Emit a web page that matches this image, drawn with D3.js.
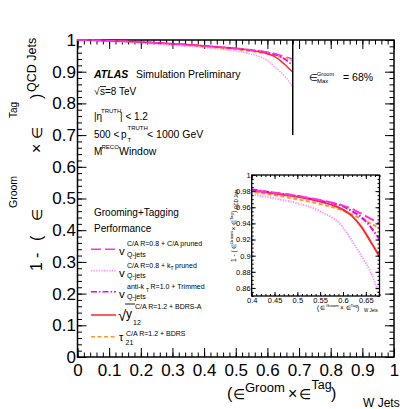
<!DOCTYPE html>
<html><head><meta charset="utf-8">
<script src="https://cdn.jsdelivr.net/npm/d3@7"></script>
<style>body{margin:0;background:#fff} svg{display:block} text{font-family:"Liberation Sans",Arial,Helvetica,sans-serif;fill:#000}</style>
</head><body><svg id="c" width="400" height="409"></svg>
<script>
// ---- data ----
const effW      = [0, 0.05, 0.1, 0.15, 0.2, 0.25, 0.3, 0.35, 0.4, 0.45, 0.5, 0.55, 0.6, 0.62, 0.64, 0.66, 0.68];
const caPruned  = [1.0, 0.999, 0.998, 0.996, 0.994, 0.991, 0.988, 0.985, 0.981, 0.978, 0.974, 0.969, 0.962, 0.958, 0.952, 0.946, 0.940];
const ktPruned  = [1.0, 0.998, 0.996, 0.993, 0.990, 0.987, 0.983, 0.980, 0.976, 0.971, 0.965, 0.955, 0.935, 0.918, 0.900, 0.880, 0.851];
const trimmed   = [1.0, 0.999, 0.998, 0.996, 0.994, 0.991, 0.988, 0.985, 0.982, 0.978, 0.974, 0.968, 0.961, 0.955, 0.948, 0.936, 0.920];
const bdrsA     = [1.0, 0.999, 0.998, 0.996, 0.994, 0.991, 0.988, 0.985, 0.981, 0.977, 0.973, 0.967, 0.957, 0.949, 0.936, 0.918, 0.899];
const tau21     = [1.0, 0.999, 0.997, 0.995, 0.993, 0.990, 0.987, 0.983, 0.979, 0.975, 0.970, 0.964, 0.956, 0.951, 0.946, 0.940, 0.934];
const groomMax  = 0.68;
const cutLine   = [[0.68, 1.0], [0.68, 0.7]];
const xTicks    = [0, 0.1, 0.2, 0.3, 0.4, 0.5, 0.6, 0.7, 0.8, 0.9, 1];
const yTicks    = [0, 0.1, 0.2, 0.3, 0.4, 0.5, 0.6, 0.7, 0.8, 0.9, 1];
const insetXTicks = [0.4, 0.45, 0.5, 0.55, 0.6, 0.65];
const insetYTicks = [0.86, 0.88, 0.9, 0.92, 0.94, 0.96, 0.98, 1];

const svg = d3.select("#c");
const FF = '"Liberation Sans",Arial,Helvetica,sans-serif';

// ---- scales ----
const x = d3.scaleLinear().domain([0, 1]).range([77.5, 394]);
const y = d3.scaleLinear().domain([0, 1]).range([357, 40]);
const xi = d3.scaleLinear().domain([0.4, 0.68]).range([251.7, 379.5]);
const yi = d3.scaleLinear().domain([0.85, 1.0]).range([296, 175]);

const styles = [
  {vals: ktPruned, color: "#ff88ff", dash: "1.2,1.4"},
  {vals: tau21,    color: "#ff9922", dash: "4,2.5"},
  {vals: bdrsA,    color: "#ff2a2a", dash: null},
  {vals: trimmed,  color: "#ee00ee", dash: "6,2,1.5,2"},
  {vals: caPruned, color: "#ff33dd", dash: "10,4"}
];

function T(p, xx, yy, s, fs, extra) {
  const t = p.append("text").attr("x", xx).attr("y", yy).attr("font-size", fs).text(s);
  if (extra) for (const k in extra) t.attr(k, extra[k]);
  return t;
}

function styleAxis(g, fs) {
  g.attr("font-size", fs).attr("font-family", FF);
  g.select(".domain").remove();
  g.selectAll("line").attr("stroke", "#000").attr("stroke-width", 1);
}

// ---- main axes ----
const minorX = d3.range(0, 1.0001, 0.02);
const minorY = d3.range(0, 1.0001, 0.02);
const fmt1 = d => (d === 0 ? "0" : d === 1 ? "1" : d3.format(".1f")(d));

svg.append("g").attr("transform", `translate(0,${y(0)})`)
  .call(d3.axisBottom(x).tickValues(xTicks).tickSize(-9).tickSizeOuter(0).tickPadding(6.5).tickFormat(fmt1))
  .call(g => styleAxis(g, 17));
svg.append("g").attr("transform", `translate(0,${y(0)})`)
  .call(d3.axisBottom(x).tickValues(minorX).tickSize(-4.5).tickSizeOuter(0).tickFormat(""))
  .call(g => styleAxis(g, 10));
svg.append("g").attr("transform", `translate(0,${y(1)})`)
  .call(d3.axisTop(x).tickValues(xTicks).tickSize(-9).tickSizeOuter(0).tickFormat(""))
  .call(g => styleAxis(g, 10));
svg.append("g").attr("transform", `translate(0,${y(1)})`)
  .call(d3.axisTop(x).tickValues(minorX).tickSize(-4.5).tickSizeOuter(0).tickFormat(""))
  .call(g => styleAxis(g, 10));
svg.append("g").attr("transform", `translate(${x(0)},0)`)
  .call(d3.axisLeft(y).tickValues(yTicks).tickSize(-9).tickSizeOuter(0).tickPadding(1.5).tickFormat(fmt1))
  .call(g => styleAxis(g, 17));
svg.append("g").attr("transform", `translate(${x(0)},0)`)
  .call(d3.axisLeft(y).tickValues(minorY).tickSize(-4.5).tickSizeOuter(0).tickFormat(""))
  .call(g => styleAxis(g, 10));
svg.append("g").attr("transform", `translate(${x(1)},0)`)
  .call(d3.axisRight(y).tickValues(yTicks).tickSize(-9).tickSizeOuter(0).tickFormat(""))
  .call(g => styleAxis(g, 10));
svg.append("g").attr("transform", `translate(${x(1)},0)`)
  .call(d3.axisRight(y).tickValues(minorY).tickSize(-4.5).tickSizeOuter(0).tickFormat(""))
  .call(g => styleAxis(g, 10));

svg.append("rect").attr("x", x(0)).attr("y", y(1)).attr("width", x(1) - x(0)).attr("height", y(0) - y(1))
  .attr("fill", "none").attr("stroke", "#000").attr("stroke-width", 1.5);

// ---- main curves ----
const lineMain = d3.line().x(d => x(d[0])).y(d => y(d[1])).curve(d3.curveMonotoneX);
styles.forEach(s => {
  svg.append("path").datum(effW.map((w, i) => [w, s.vals[i]]))
    .attr("d", lineMain).attr("fill", "none").attr("stroke", s.color)
    .attr("stroke-width", 1.5).attr("stroke-dasharray", s.dash);
});
svg.append("path").datum(cutLine).attr("d", d3.line().x(d => x(d[0])).y(d => y(d[1])))
  .attr("stroke", "#000").attr("stroke-width", 1.5).attr("fill", "none");

// ---- inset ----
svg.append("rect").attr("x", xi.range()[0]).attr("y", yi.range()[1])
  .attr("width", xi.range()[1] - xi.range()[0]).attr("height", yi.range()[0] - yi.range()[1])
  .attr("fill", "#fff");
svg.append("defs").append("clipPath").attr("id", "ic").append("rect")
  .attr("x", xi.range()[0]).attr("y", yi.range()[1])
  .attr("width", xi.range()[1] - xi.range()[0]).attr("height", yi.range()[0] - yi.range()[1]);
const lineIn = d3.line().x(d => xi(d[0])).y(d => yi(d[1])).curve(d3.curveMonotoneX);
const gi = svg.append("g").attr("clip-path", "url(#ic)");
styles.forEach(s => {
  gi.append("path").datum(effW.map((w, i) => [w, s.vals[i]]).filter(d => d[0] >= 0.35))
    .attr("d", lineIn).attr("fill", "none").attr("stroke", s.color)
    .attr("stroke-width", 2).attr("stroke-dasharray", s.dash);
});
const minorXi = d3.range(0.4, 0.6801, 0.01);
const minorYi = d3.range(0.85, 1.0001, 0.005);
const fmtI = d => (d === 1 ? "1" : d3.format(".2~f")(d));
svg.append("g").attr("transform", `translate(0,${yi(0.85)})`)
  .call(d3.axisBottom(xi).tickValues(insetXTicks).tickSize(-4).tickSizeOuter(0).tickPadding(1.5).tickFormat(fmtI))
  .call(g => styleAxis(g, 7.5));
svg.append("g").attr("transform", `translate(0,${yi(0.85)})`)
  .call(d3.axisBottom(xi).tickValues(minorXi).tickSize(-2).tickSizeOuter(0).tickFormat(""))
  .call(g => styleAxis(g, 7));
svg.append("g").attr("transform", `translate(0,${yi(1)})`)
  .call(d3.axisTop(xi).tickValues(insetXTicks).tickSize(-4).tickSizeOuter(0).tickFormat(""))
  .call(g => styleAxis(g, 7));
svg.append("g").attr("transform", `translate(0,${yi(1)})`)
  .call(d3.axisTop(xi).tickValues(minorXi).tickSize(-2).tickSizeOuter(0).tickFormat(""))
  .call(g => styleAxis(g, 7));
svg.append("g").attr("transform", `translate(${xi(0.4)},0)`)
  .call(d3.axisLeft(yi).tickValues(insetYTicks).tickSize(-4).tickSizeOuter(0).tickPadding(1).tickFormat(fmtI))
  .call(g => styleAxis(g, 7.5));
svg.append("g").attr("transform", `translate(${xi(0.4)},0)`)
  .call(d3.axisLeft(yi).tickValues(minorYi).tickSize(-2).tickSizeOuter(0).tickFormat(""))
  .call(g => styleAxis(g, 7));
svg.append("g").attr("transform", `translate(${xi(0.68)},0)`)
  .call(d3.axisRight(yi).tickValues(insetYTicks).tickSize(-4).tickSizeOuter(0).tickFormat(""))
  .call(g => styleAxis(g, 7));
svg.append("g").attr("transform", `translate(${xi(0.68)},0)`)
  .call(d3.axisRight(yi).tickValues(minorYi).tickSize(-2).tickSizeOuter(0).tickFormat(""))
  .call(g => styleAxis(g, 7));
svg.append("rect").attr("x", xi.range()[0]).attr("y", yi.range()[1])
  .attr("width", xi.range()[1] - xi.range()[0]).attr("height", yi.range()[0] - yi.range()[1])
  .attr("fill", "none").attr("stroke", "#000").attr("stroke-width", 1.3);

// inset axis titles (tiny)
const giy = svg.append("g").attr("transform", "translate(236,262) rotate(-90)");
T(giy, 0, 0, "1 - (", 6.5);
T(giy, 13, 0, "\u2208", 5.5);
T(giy, 18, -3, "Groom", 4.2);
T(giy, 31.5, 0, "\u00d7", 6.5);
T(giy, 37, 0, "\u2208", 5.5);
T(giy, 42, -3, "Tag", 4.2);
T(giy, 49, 0, ")", 6.5);
T(giy, 53, 2, "QCD Jets", 4.5);
T(svg, 317, 310, "(", 6.5);
T(svg, 320, 310, "\u2208", 5.5);
T(svg, 326, 306.5, "Groom", 4.2);
T(svg, 340, 310, "\u00d7", 6.5);
T(svg, 345.5, 310, "\u2208", 5.5);
T(svg, 350.5, 306.5, "Tag", 4.2);
T(svg, 357, 310, ")", 6.5);
T(svg, 364, 312, "W Jets", 4.5);

// ---- main axis titles ----
T(svg, 227, 399, "(", 16);
T(svg, 232.5, 399, "\u2208", 13.5);
T(svg, 245, 392, "Groom", 13);
T(svg, 288, 399, "\u00d7", 16);
T(svg, 299, 399, "\u2208", 13.5);
T(svg, 311.5, 389, "Tag", 12.5);
T(svg, 331, 399, ")", 16);
T(svg, 363, 407, "W Jets", 12);

const gy = svg.append("g").attr("transform", "translate(42,272) rotate(-90)");
T(gy, 1, 0, "1", 16);
T(gy, 14, 0, "-", 16);
T(gy, 31, 0, "(", 16);
T(gy, 51, 0, "\u2208", 13.5);
T(gy, 64, -25, "Groom", 10.5);
T(gy, 119, 0, "\u00d7", 16);
T(gy, 133, 0, "\u2208", 13.5);
T(gy, 154, -25, "Tag", 10);
T(gy, 173, 0, ")", 16);
T(gy, 180, -6, "QCD Jets", 12.5);

// ---- annotations ----
T(svg, 94, 77.5, "ATLAS", 10.5, {"font-weight": "bold", "font-style": "italic"});
T(svg, 136, 77.5, "Simulation Preliminary", 10.5);
T(svg, 94, 95, "\u221a", 10);
T(svg, 100, 95, "s=8 TeV", 10);
svg.append("line").attr("x1", 100).attr("x2", 106).attr("y1", 86.5).attr("y2", 86.5).attr("stroke", "#000").attr("stroke-width", 0.8);
T(svg, 94, 120, "|\u03b7", 10);
T(svg, 101, 113, "TRUTH", 6);
T(svg, 120, 120, "| < 1.2", 10);
T(svg, 94, 137.5, "500 <", 10);
T(svg, 121, 137.5, "p", 10);
T(svg, 127.5, 129.5, "TRUTH", 6);
T(svg, 127.5, 142, "T", 6);
T(svg, 147, 137.5, "< 1000 GeV", 10.5);
T(svg, 94, 155, "M", 10);
T(svg, 101.5, 149, "RECO", 6);
T(svg, 119, 155, "Window", 10.5);

T(svg, 309, 80.5, "\u2208", 10);
T(svg, 317, 75.5, "Groom", 5.6);
T(svg, 317, 82.5, "Max", 6);
T(svg, 343, 80.5, "= 68%", 10.5);

// ---- legend ----
T(svg, 94, 216, "Grooming+Tagging", 10);
T(svg, 94, 232, "Performance", 10);
const legY = [249.3, 270.7, 291.7, 315, 336.7];
const legOrder = [4, 0, 3, 2, 1];
legOrder.forEach((si, k) => {
  const s = styles[si];
  svg.append("line").attr("x1", 91).attr("x2", 116).attr("y1", legY[k]).attr("y2", legY[k])
    .attr("stroke", s.color).attr("stroke-width", 1.5).attr("stroke-dasharray", s.dash);
});
// entry 1
T(svg, 119, 255, "v", 11.5);
T(svg, 127, 246, "C/A R=0.8 + C/A pruned", 7);
T(svg, 127, 256.5, "Q-jets", 7);
// entry 2
T(svg, 119, 276.5, "v", 11.5);
T(svg, 127, 267.5, "C/A R=0.8 + k", 7);
T(svg, 170.5, 270, "T", 5);
T(svg, 175, 267.5, "pruned", 7);
T(svg, 127, 278, "Q-jets", 7);
// entry 3
T(svg, 119, 297.5, "v", 11.5);
T(svg, 127, 289, "anti-k", 7);
T(svg, 146, 291.5, "T", 5);
T(svg, 150.5, 289, "R=1.0 + Trimmed", 7);
T(svg, 127, 299, "Q-jets", 7);
// entry 4
T(svg, 118, 321, "\u221a", 15);
T(svg, 126, 318, "y", 12);
svg.append("line").attr("x1", 125).attr("x2", 135).attr("y1", 304).attr("y2", 304).attr("stroke", "#000").attr("stroke-width", 0.9);
T(svg, 135, 309, "C/A R=1.2 + BDRS-A", 7);
T(svg, 133, 325, "12", 7);
// entry 5
T(svg, 119, 341, "\u03c4", 11);
T(svg, 126, 336, "C/A R=1.2 + BDRS", 7);
T(svg, 125.5, 344.5, "21", 7);
</script></body></html>
